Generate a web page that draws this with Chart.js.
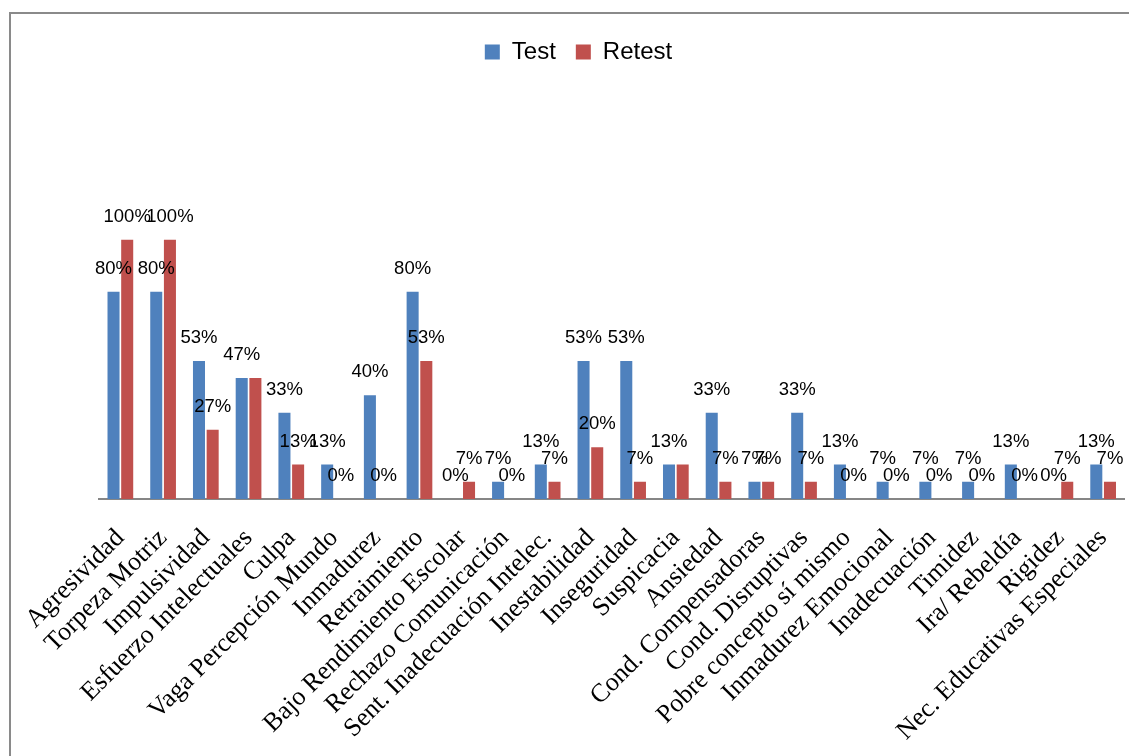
<!DOCTYPE html>
<html lang="es">
<head>
<meta charset="utf-8">
<title>Test - Retest</title>
<script src="https://cdn.jsdelivr.net/npm/chart.js@4.4.0/dist/chart.umd.min.js"></script>
<style>
    html, body { margin: 0; padding: 0; background: #fff; overflow: hidden; }
    #marco {
        position: absolute; left: 9px; top: 12px; width: 1300px; height: 900px;
        border-left: 2px solid #8a8a8a; border-top: 2px solid #8a8a8a;
    }
    #contenedor { position: absolute; left: 0; top: 0; width: 1129px; height: 756px; }
</style>
</head>
<body>
<div id="marco"></div>
<div id="contenedor"><canvas id="grafico"></canvas></div>
<script>
const CATEGORIAS = [
    "Agresividad", "Torpeza Motriz", "Impulsividad", "Esfuerzo Intelectuales",
    "Culpa", "Vaga Percepción Mundo", "Inmadurez", "Retraimiento",
    "Bajo Rendimiento Escolar", "Rechazo Comunicación", "Sent. Inadecuación Intelec.",
    "Inestabilidad", "Inseguridad", "Suspicacia", "Ansiedad", "Cond. Compensadoras",
    "Cond. Disruptivas", "Pobre concepto sí mismo", "Inmadurez Emocional",
    "Inadecuación", "Timidez", "Ira/ Rebeldía", "Rigidez", "Nec. Educativas Especiales",
];

// porcentajes
const VALORES_TEST = [
    80, 80, 53.3, 46.7, 33.3, 13.3, 40, 80, 0, 6.7, 13.3, 53.3,
    53.3, 13.3, 33.3, 6.7, 33.3, 13.3, 6.7, 6.7, 6.7, 13.3, 0, 13.3,
];
const VALORES_RETEST = [
    100, 100, 26.7, 46.7, 13.3, 0, 0, 53.3, 6.7, 0, 6.7, 20,
    6.7, 13.3, 6.7, 6.7, 6.7, 0, 0, 0, 0, 0, 6.7, 6.7,
];

// en el original estas etiquetas del retest no aparecen
const SIN_ETIQUETA_RETEST = ["Esfuerzo Intelectuales", "Suspicacia"];

const COLOR_TEST = "#4f81bd";
const COLOR_RETEST = "#c0504d";

// Escribe el porcentaje encima de cada barra
const etiquetasValores = {
    id: "etiquetasValores",
    afterDatasetsDraw(chart) {
        const ctx = chart.ctx;
        ctx.save();
        ctx.font = "18.5px 'Liberation Sans', Arial, sans-serif";
        ctx.fillStyle = "#000";
        ctx.textAlign = "center";
        ctx.textBaseline = "middle";
        chart.data.datasets.forEach((serie, i) => {
            chart.getDatasetMeta(i).data.forEach((barra, j) => {
                if (i === 1 && SIN_ETIQUETA_RETEST.includes(CATEGORIAS[j])) return;
                ctx.fillText(Math.round(serie.data[j]) + "%", barra.x, barra.y - 23);
            });
        });
        ctx.restore();
    },
};

new Chart(document.getElementById("grafico").getContext("2d"), {
    type: "bar",
    data: {
        labels: CATEGORIAS,
        datasets: [
            { label: "Test", data: VALORES_TEST, backgroundColor: COLOR_TEST },
            { label: "Retest", data: VALORES_RETEST, backgroundColor: COLOR_RETEST },
        ],
    },
    options: {
        responsive: true,
        maintainAspectRatio: false,
        animation: false,
        categoryPercentage: 0.64,
        barPercentage: 0.88,
        layout: { padding: { left: 32.5, right: 4.5, top: 20, bottom: 0 } },
        plugins: {
            tooltip: { enabled: false },
            legend: {
                position: "top",
                labels: {
                    color: "#000",
                    font: { family: "'Liberation Sans', Arial, sans-serif", size: 24 },
                    boxWidth: 15, boxHeight: 15, padding: 20,
                },
            },
        },
        scales: {
            x: {
                grid: { display: false },
                border: { display: true, color: "#868686", width: 2 },
                ticks: {
                    autoSkip: false, minRotation: 45, maxRotation: 45, padding: 16,
                    color: "#000",
                    font: { family: "'Liberation Serif', 'Times New Roman', serif", size: 26 },
                },
                afterFit: (escala) => {
                    escala.height = 257;
                    escala.paddingLeft = 0; // las etiquetas giradas no deben mover el area
                    escala.paddingRight = 0;
                },
            },
            y: {
                min: 0, max: 164,
                grid: { display: false },
                border: { display: false },
                ticks: { display: false },
                afterFit: (escala) => { escala.width = 66.5; },
            },
        },
    },
    plugins: [etiquetasValores],
});
</script>
</body>
</html>
